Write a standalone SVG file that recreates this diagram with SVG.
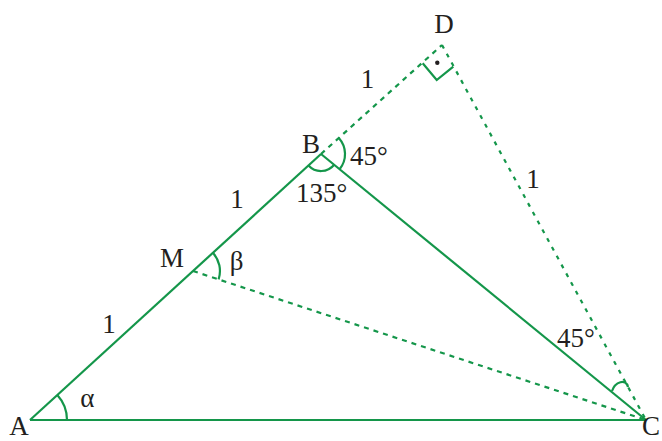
<svg xmlns="http://www.w3.org/2000/svg" width="662" height="441" viewBox="0 0 662 441">
<style>
.s{stroke:#14964a;stroke-width:2.2;fill:none;stroke-linecap:butt}
.d{stroke:#14964a;stroke-width:2.2;fill:none;stroke-dasharray:5 5}
.o{stroke:#14964a;stroke-width:2.2;fill:none;stroke-dasharray:4 6}
text{font-family:"Liberation Serif","Times New Roman",serif;font-size:27px;fill:#231f20;text-anchor:middle}
</style>
<rect width="662" height="441" fill="#ffffff"/>
<g id="connectors">
<line class="s" x1="30" y1="420" x2="321" y2="154"/>
<line class="s" x1="30" y1="420" x2="646" y2="420"/>
<line class="s" x1="321" y1="154" x2="646" y2="420"/>
<line class="d" x1="321" y1="154" x2="442" y2="45"/>
<line class="o" x1="442" y1="45" x2="646" y2="420"/>
<line class="d" x1="193" y1="271" x2="646" y2="420"/>
</g>
<g id="angles">
<path class="s" d="M57.3,395 A37,37 0 0 1 67,420"/>
<path class="s" d="M308.5,165.5 A17,17 0 0 0 334.2,164.8"/>
<path class="s" d="M338.8,137.9 A24,24 0 0 1 339.6,169.2"/>
<path class="s" d="M212.9,252.8 A27,27 0 0 1 218.6,279.4"/>
<path class="s" d="M612,391 C615,382 626,378 628,387"/>
<polyline class="s" points="422.7,63.3 436.7,80 453.3,66.7"/>
<circle cx="437.3" cy="62.7" r="2.2" fill="#231f20"/>
</g>
<g id="A"><text x="19" y="435">A</text></g>
<g id="B"><text x="311" y="153">B</text></g>
<g id="C"><text x="651" y="435">C</text></g>
<g id="D"><text x="444" y="33">D</text></g>
<g id="M"><text x="172" y="267">M</text></g>
<g id="labels">
<text x="367.5" y="88">1</text>
<text x="237" y="208">1</text>
<text x="109" y="333">1</text>
<text x="533" y="188">1</text>
<text x="369" y="165">45°</text>
<text x="321.7" y="201.7">135°</text>
<text x="576" y="346.7">45°</text>
<text x="236.5" y="270">β</text>
<text x="87.4" y="406.7">α</text>
</g>
</svg>
